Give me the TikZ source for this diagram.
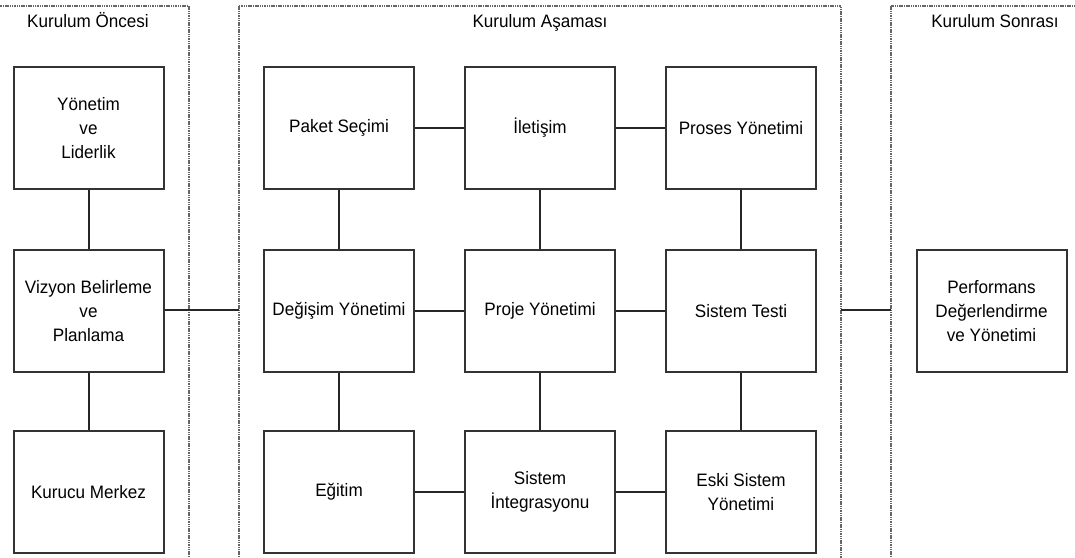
\documentclass[tikz,border=0pt]{standalone}
\usepackage{fontspec}
\setmainfont{Liberation Sans}[FakeStretch=0.95]
\begin{document}
\begin{tikzpicture}[x=1pt,y=-1pt,
  phasebox/.style={draw=black!80, line width=2pt, minimum width=150pt, minimum height=122pt,
    inner sep=2pt, align=center, text=black, font=\fontsize{18}{24}\selectfont},
  frame/.style={draw=black!60, line width=1.4pt, dash pattern=on 1.5pt off 0.8pt},
  link/.style={draw=black!85, line width=2pt},
  phasetitle/.style={text=black, font=\fontsize{18}{20}\selectfont, anchor=base}]
\clip (0,0) rectangle (1075,557);
\useasboundingbox (0,0) rectangle (1075,557);

% phase frames
\draw[frame] (-10,6) rectangle (189,580);
\draw[frame] (239,6) rectangle (841,580);
\draw[frame] (891,6) rectangle (1090,580);
\node[phasetitle] (t1) at (88,27) {Kurulum Öncesi};
\node[phasetitle] (t2) at (540,27) {Kurulum Aşaması};
\node[phasetitle] (t3) at (995,27) {Kurulum Sonrası};
\coordinate (f1r) at (189,310);
\coordinate (f2l) at (239,310);
\coordinate (f2r) at (841,310);
\coordinate (f3l) at (891,310);

% pre-installation column
\node[phasebox] (yon) at (88.5,128) {Yönetim\\ve\\Liderlik};
\node[phasebox] (viz) at (88.5,311) {Vizyon Belirleme\\ve\\Planlama};
\node[phasebox] (kur) at (88.5,492) {Kurucu Merkez};

% installation grid
\node[phasebox] (pak) at (339,128) {Paket Seçimi};
\node[phasebox] (ile) at (540,128) {İletişim};
\node[phasebox] (pro) at (741,128) {Proses Yönetimi};
\node[phasebox] (deg) at (339,311) {Değişim Yönetimi};
\node[phasebox] (prj) at (540,311) {Proje Yönetimi};
\node[phasebox] (sis) at (741,311) {Sistem Testi};
\node[phasebox] (egi) at (339,492) {Eğitim};
\node[phasebox] (ent) at (540,492) {Sistem\\İntegrasyonu};
\node[phasebox] (esk) at (741,492) {Eski Sistem\\Yönetimi};

% post-installation
\node[phasebox] (per) at (991.5,311) {Performans\\Değerlendirme\\ve Yönetimi};

% connectors
\draw[link] (yon) -- (viz);
\draw[link] (viz) -- (kur);
\draw[link] (viz.east |- f1r) -- (f2l);
\draw[link] (f2r) -- (f3l);

\draw[link] (pak) -- (ile);
\draw[link] (ile) -- (pro);
\draw[link] (deg) -- (prj);
\draw[link] (prj) -- (sis);
\draw[link] (egi) -- (ent);
\draw[link] (ent) -- (esk);
\draw[link] (pak) -- (deg);
\draw[link] (deg) -- (egi);
\draw[link] (ile) -- (prj);
\draw[link] (prj) -- (ent);
\draw[link] (pro) -- (sis);
\draw[link] (sis) -- (esk);
\end{tikzpicture}
\end{document}
